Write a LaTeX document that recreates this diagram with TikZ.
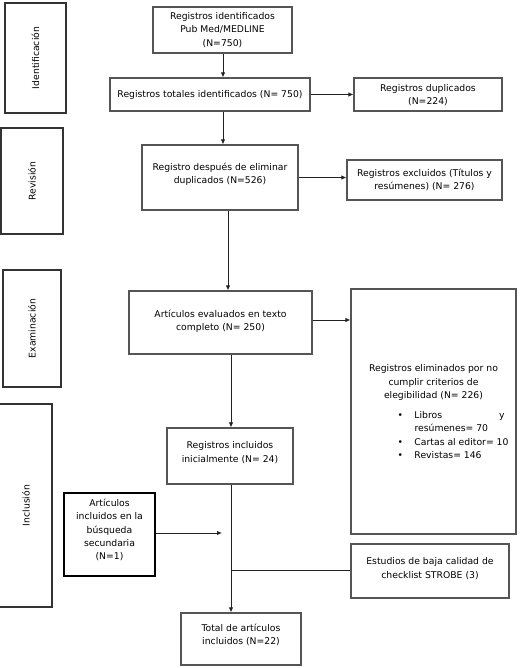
\documentclass[tikz,border=0pt]{standalone}
\usepackage{fontspec}
\setmainfont{DejaVu Sans}
\usetikzlibrary{arrows.meta}
\definecolor{boxgray}{HTML}{555555}
\definecolor{linegray}{HTML}{222222}
\tikzset{
  box/.style={draw=boxgray, line width=1.2bp, inner sep=0pt, align=center, font=\fontsize{9.3}{13.3}\selectfont},
  up/.style={text depth=#1},
  phase/.style={box, draw=black!80},
  phasetext/.style={rotate=90, font=\fontsize{9.3}{13.3}\selectfont},
  conn/.style={draw=linegray, line width=0.9bp, -{Latex[length=5bp,width=4.5bp]}},
  plain/.style={draw=linegray, line width=0.9bp},
}
\begin{document}
\begin{tikzpicture}[x=1bp,y=-1bp]
\useasboundingbox (0,0) rectangle (520,668);
% phase boxes
\node[phase, minimum width=61bp, minimum height=110bp] (idf) at (35.5,58) {};
\node[phasetext] (idft) at (idf.center) {Identificación};
\node[phase, minimum width=62bp, minimum height=106bp] (rev) at (32,181) {};
\node[phasetext] (revt) at (rev.center) {Revisión};
\node[phase, minimum width=58bp, minimum height=117bp] (exa) at (32,328.5) {};
\node[phasetext] (exat) at (exa.center) {Examinación};
\node[phase, minimum width=54bp, minimum height=203bp] (inc) at (25,505.5) {};
\node[phasetext] (inct) at (26,505.5) {Inclusión};
% main boxes
\node[box, minimum width=139bp, minimum height=46bp] (b1) at (222.5,30) {Registros identificados\\Pub Med/MEDLINE\\(N=750)};
\node[box, minimum width=200bp, minimum height=33bp] (b2) at (210,94.5) {Registros totales identificados (N= 750)};
\node[box, minimum width=148bp, minimum height=33bp, up=0pt] (dup) at (428,94.5) {Registros duplicados\\(N=224)};
\node[box, minimum width=156bp, minimum height=65bp, up=9bp] (b3) at (220,177.5) {Registro después de eliminar\\duplicados (N=526)};
\node[box, minimum width=155bp, minimum height=40bp] (excl) at (424.5,180) {Registros excluidos (Títulos y\\resúmenes) (N= 276)};
\node[box, minimum width=183bp, minimum height=63bp, up=5bp] (b4) at (220.5,322.5) {Artículos evaluados en texto\\completo (N= 250)};
\node[box, minimum width=165bp, minimum height=245bp] (elim) at (433.5,411.5) {\begin{minipage}{156bp}\vspace*{4bp}\centering
Registros eliminados por no\\cumplir criterios de\\elegibilidad (N= 226)\par\vspace{8bp}
\raggedright\hspace*{42bp}\begin{tabular}{@{}p{17bp}@{}l@{}}
\textbullet & \makebox[90bp][s]{Libros\hfill y}\\
 & resúmenes= 70\\
\textbullet & Cartas al editor= 10\\
\textbullet & Revistas= 146
\end{tabular}\end{minipage}};
\node[box, minimum width=126bp, minimum height=56bp, up=8bp] (b5) at (230,456) {Registros incluidos\\inicialmente (N= 24)};
\node[box, draw=black, minimum width=91bp, minimum height=83bp, up=10bp] (sec) at (109.5,534.5) {Artículos\\incluidos en la\\búsqueda\\secundaria\\(N=1)};
\node[box, minimum width=158bp, minimum height=54bp, up=6bp] (strobe) at (430,571) {Estudios de baja calidad de\\checklist STROBE (3)};
\node[box, minimum width=120bp, minimum height=52bp, up=10bp] (total) at (241,639) {Total de artículos\\incluidos (N=22)};
% coordinates
\coordinate (j1) at (223,7);
\coordinate (secend) at (222,533);
\coordinate (branch) at (231,570);
% connectors
\draw[conn] (b1.south -| j1) -- (b2.north -| j1);
\draw[conn] (b2.south -| j1) -- (b3.north -| j1);
\draw[conn] (b2.east) -- (dup.west);
\draw[conn] (b3.south -| 228,0) -- (b4.north -| 228,0);
\draw[conn] (b3.east) -- (b3.east -| excl.west);
\draw[conn] (b4.east |- 0,320) -- (elim.west |- 0,320);
\draw[conn] (b4.south -| branch) -- (b5.north -| branch);
\draw[conn] (b5.south -| branch) -- (total.north -| branch);
\draw[conn] (sec.east |- secend) -- (secend);
\draw[plain] (branch) -- (branch -| strobe.west);
\end{tikzpicture}
\end{document}
